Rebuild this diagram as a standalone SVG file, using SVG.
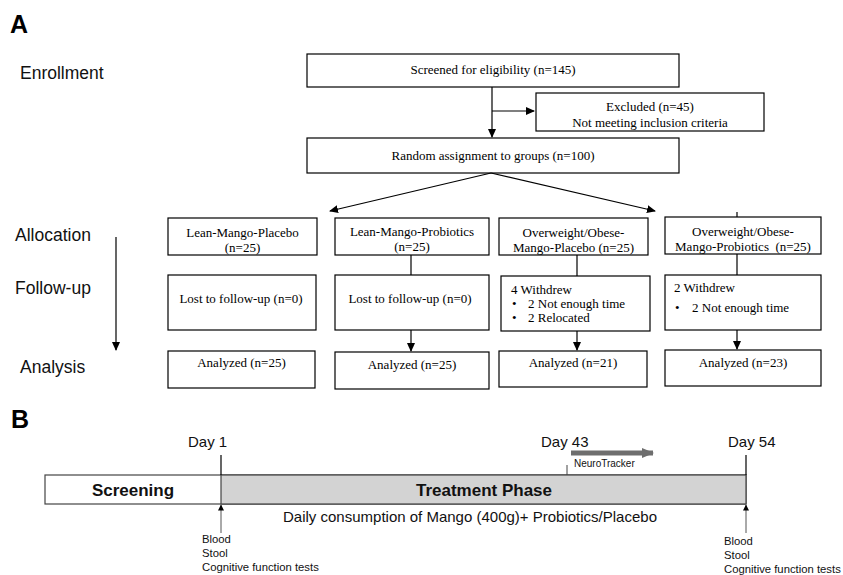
<svg xmlns="http://www.w3.org/2000/svg" width="843" height="575" viewBox="0 0 843 575">
<style>
.box{fill:#fff;stroke:#000;stroke-width:1.2}
.t{font-family:"Liberation Serif","Times New Roman",serif;font-size:13px;fill:#000}
.c{text-anchor:middle}
.lab{font-family:"Liberation Sans",Arial,sans-serif;font-size:17.5px;fill:#111}
.pan{font-family:"Liberation Sans",Arial,sans-serif;font-size:25px;font-weight:bold;fill:#000}
.ln{stroke:#000;stroke-width:1.2;fill:none}
.s{font-family:"Liberation Sans",Arial,sans-serif;fill:#111}
</style>
<defs>
<marker id="ah" markerWidth="9" markerHeight="8" refX="8" refY="4" orient="auto" markerUnits="userSpaceOnUse">
<path d="M0,0 L9,4 L0,8 Z" fill="#000"/>
</marker>
<marker id="ahs" markerWidth="6" markerHeight="6" refX="5.5" refY="3" orient="auto" markerUnits="userSpaceOnUse">
<path d="M0,0 L6,3 L0,6 Z" fill="#000"/>
</marker>
<marker id="gh" markerWidth="12" markerHeight="10" refX="11" refY="5" orient="auto" markerUnits="userSpaceOnUse">
<path d="M0,0 L12,5 L0,10 Z" fill="#6e6e6e"/>
</marker>
</defs>

<text class="pan" x="10" y="33">A</text>
<text class="lab" x="20" y="79">Enrollment</text>
<text class="lab" x="15" y="241">Allocation</text>
<text class="lab" x="15" y="294">Follow-up</text>
<text class="lab" x="20" y="373">Analysis</text>

<g id="screened"><rect class="box" x="307" y="54" width="372" height="33"/><text class="t c" x="493" y="74">Screened for eligibility (n=145)</text></g>
<g id="excluded"><rect class="box" x="536" y="93" width="228" height="38"/><text class="t c" x="650" y="111">Excluded (n=45)</text><text class="t c" x="650" y="127">Not meeting inclusion criteria</text></g>
<g id="random"><rect class="box" x="307" y="138" width="372" height="35"/><text class="t c" x="493" y="160">Random assignment to groups (n=100)</text></g>

<g id="alloc1"><rect class="box" x="168" y="218" width="149" height="37"/><text class="t c" x="242.5" y="237">Lean-Mango-Placebo</text><text class="t c" x="242.5" y="252">(n=25)</text></g>
<g id="alloc2"><rect class="box" x="335" y="218" width="154" height="37"/><text class="t c" x="412" y="236">Lean-Mango-Probiotics</text><text class="t c" x="412" y="251">(n=25)</text></g>
<g id="alloc3"><rect class="box" x="499" y="218" width="149" height="37"/><text class="t c" x="573.5" y="237">Overweight/Obese-</text><text class="t c" x="573.5" y="252">Mango-Placebo (n=25)</text></g>
<g id="alloc4"><rect class="box" x="665" y="217" width="156" height="37"/><text class="t c" x="743" y="236">Overweight/Obese-</text><text class="t c" x="743" y="251" xml:space="preserve">Mango-Probiotics  (n=25)</text></g>

<g id="follow1"><rect class="box" x="168" y="275" width="148" height="55"/><text class="t c" x="241" y="303">Lost to follow-up (n=0)</text></g>
<g id="follow2"><rect class="box" x="335" y="275" width="154" height="55"/><text class="t c" x="410" y="303">Lost to follow-up (n=0)</text></g>
<g id="follow3"><rect class="box" x="501" y="276" width="149" height="55"/><text class="t" x="511" y="294">4 Withdrew</text><text class="t" x="512" y="308">•</text><text class="t" x="528" y="308">2 Not enough time</text><text class="t" x="512" y="322">•</text><text class="t" x="528" y="322">2 Relocated</text></g>
<g id="follow4"><rect class="box" x="665" y="275" width="156" height="55"/><text class="t" x="674" y="292">2 Withdrew</text><text class="t" x="675" y="312">•</text><text class="t" x="692" y="312">2 Not enough time</text></g>

<g id="anal1"><rect class="box" x="168" y="351" width="147" height="37"/><text class="t c" x="241.5" y="367">Analyzed (n=25)</text></g>
<g id="anal2"><rect class="box" x="335" y="352" width="154" height="37"/><text class="t c" x="412" y="369">Analyzed (n=25)</text></g>
<g id="anal3"><rect class="box" x="499" y="351" width="148" height="36"/><text class="t c" x="573" y="367">Analyzed (n=21)</text></g>
<g id="anal4"><rect class="box" x="665" y="350" width="156" height="36"/><text class="t c" x="743" y="367">Analyzed (n=23)</text></g>

<g id="connectors">
<line class="ln" x1="492" y1="87" x2="492" y2="137" marker-end="url(#ah)"/>
<line class="ln" x1="492" y1="111" x2="534" y2="111" marker-end="url(#ah)"/>
<line class="ln" x1="491" y1="173" x2="330" y2="211" marker-end="url(#ah)"/>
<line class="ln" x1="491" y1="173" x2="655" y2="211" marker-end="url(#ah)"/>
<line class="ln" x1="737" y1="212" x2="737" y2="217"/>
<line class="ln" x1="411" y1="255" x2="411" y2="275"/>
<line class="ln" x1="411" y1="330" x2="411" y2="351" marker-end="url(#ah)"/>
<line class="ln" x1="577" y1="255" x2="577" y2="276"/>
<line class="ln" x1="577" y1="331" x2="577" y2="350" marker-end="url(#ah)"/>
<line class="ln" x1="737" y1="254" x2="737" y2="275"/>
<line class="ln" x1="737" y1="330" x2="737" y2="349" marker-end="url(#ah)"/>
<line class="ln" x1="116" y1="237" x2="116" y2="350" marker-end="url(#ah)"/>
</g>

<text class="pan" x="11" y="428">B</text>
<g id="timeline">
<rect x="45" y="475" width="701" height="29" fill="#fff" stroke="#444" stroke-width="1.2"/>
<rect x="221" y="475" width="525" height="29" fill="#d3d3d3" stroke="#444" stroke-width="1.2"/>
<text class="s" x="133" y="496" text-anchor="middle" font-size="17" font-weight="bold">Screening</text>
<text class="s" x="484" y="496" text-anchor="middle" font-size="17" font-weight="bold">Treatment Phase</text>
<text class="s" x="470" y="522" text-anchor="middle" font-size="15">Daily consumption of Mango (400g)+ Probiotics/Placebo</text>
<text class="s" x="188" y="447" font-size="15">Day 1</text>
<text class="s" x="541" y="447" font-size="15">Day 43</text>
<text class="s" x="728" y="447" font-size="15">Day 54</text>
<line x1="221" y1="455" x2="221" y2="475" stroke="#000" stroke-width="1.2"/>
<line x1="567" y1="465" x2="567" y2="475" stroke="#444" stroke-width="1"/>
<line x1="746" y1="455" x2="746" y2="475" stroke="#000" stroke-width="1.2"/>
<line x1="571" y1="453" x2="653" y2="453" stroke="#6e6e6e" stroke-width="5" marker-end="url(#gh)"/>
<text class="s" x="574" y="467" font-size="10">NeuroTracker</text>
<line x1="221" y1="533" x2="221" y2="505" stroke="#555" stroke-width="1" marker-end="url(#ahs)"/>
<line x1="746" y1="533" x2="746" y2="505" stroke="#555" stroke-width="1" marker-end="url(#ahs)"/>
<text class="s" x="202" y="543" font-size="11.3">Blood</text>
<text class="s" x="202" y="557" font-size="11.3">Stool</text>
<text class="s" x="202" y="571" font-size="11.3">Cognitive function tests</text>
<text class="s" x="724" y="545" font-size="11.3">Blood</text>
<text class="s" x="724" y="559" font-size="11.3">Stool</text>
<text class="s" x="724" y="573" font-size="11.3">Cognitive function tests</text>
</g>
</svg>
